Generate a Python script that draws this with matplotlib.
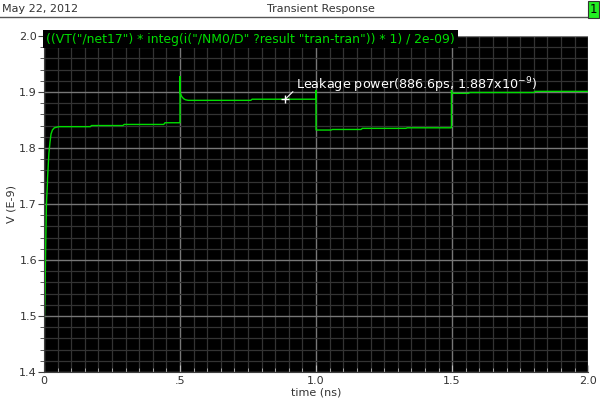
import matplotlib
matplotlib.use("Agg")
import matplotlib.pyplot as plt
from matplotlib.ticker import MultipleLocator, FixedLocator, FixedFormatter

# ---- data ----
time_ns = [0.0, 0.0015, 0.0035, 0.0035, 0.006, 0.006, 0.009, 0.009, 0.013, 0.013,
           0.018, 0.022, 0.026, 0.031, 0.038, 0.046, 0.055, 0.17, 0.175, 0.29,
           0.295, 0.44, 0.445, 0.5, 0.5, 0.501, 0.506, 0.513, 0.52, 0.53, 0.76,
           0.765, 0.9995, 0.9995, 1.0, 1.055, 1.06, 1.165, 1.17, 1.33, 1.335,
           1.4975, 1.4975, 1.5, 1.56, 1.565, 1.80, 1.805, 2.0]
value_e9 = [1.437, 1.50, 1.53, 1.53, 1.62, 1.62, 1.70, 1.70, 1.74, 1.745,
            1.79, 1.81, 1.825, 1.832, 1.836, 1.837, 1.838, 1.838, 1.840, 1.840,
            1.842, 1.842, 1.845, 1.845, 1.928, 1.898, 1.892, 1.888, 1.886, 1.885, 1.885,
            1.887, 1.887, 1.903, 1.832, 1.832, 1.833, 1.833, 1.835, 1.835, 1.836,
            1.836, 1.903, 1.8975, 1.8975, 1.899, 1.899, 1.901, 1.901]

x_ticks = [0.0, 0.5, 1.0, 1.5, 2.0]
x_tick_labels = ["0", ".5", "1.0", "1.5", "2.0"]
y_ticks = [1.4, 1.5, 1.6, 1.7, 1.8, 1.9, 2.0]
y_tick_labels = ["1.4", "1.5", "1.6", "1.7", "1.8", "1.9", "2.0"]

marker_t = 0.8866
marker_v = 1.887
marker_label = "Leakage power(886.6ps, 1.887x10$^{-9}$)"
trace_label = '((VT("/net17") * integ(i("/NM0/D" ?result "tran-tran")) * 1) / 2e-09)'

fig = plt.figure(figsize=(6.0, 4.08), dpi=100)
fig.patch.set_facecolor("white")
ax = fig.add_axes([0.0733, 0.088, 0.907, 0.824])
ax.set_facecolor("black")

ax.set_xlim(0, 2.0)
ax.set_ylim(1.4, 2.0)

# grid
ax.xaxis.set_major_locator(FixedLocator(x_ticks))
ax.xaxis.set_major_formatter(FixedFormatter(x_tick_labels))
ax.xaxis.set_minor_locator(MultipleLocator(0.05))
ax.yaxis.set_major_locator(FixedLocator(y_ticks))
ax.yaxis.set_major_formatter(FixedFormatter(y_tick_labels))
ax.yaxis.set_minor_locator(MultipleLocator(0.02))
ax.grid(which="minor", color="#333333", linewidth=0.9)
ax.grid(which="major", color="#777777", linewidth=1.0)
ax.set_axisbelow(True)

ax.tick_params(axis="y", which="major", direction="out", length=4, color="#404040",
               labelsize=8, labelcolor="#333333", pad=1)
ax.tick_params(axis="y", which="minor", direction="out", length=3, color="#404040")
ax.tick_params(axis="x", which="major", direction="in", length=5, color="#bbbbbb",
               labelsize=8, labelcolor="#333333", pad=3)
ax.tick_params(axis="x", which="minor", direction="in", length=3, color="#bbbbbb")
for s in ["top", "right"]:
    ax.spines[s].set_visible(False)
ax.spines["left"].set_color("#404040")
ax.spines["bottom"].set_color("#404040")

ax.set_xlabel("time (ns)", fontsize=8, color="#333333", labelpad=1)
ax.set_ylabel("V (E-9)", fontsize=8, color="#333333", labelpad=2)

# trace
ax.plot(time_ns, value_e9, color="#00dd00", linewidth=1.0, solid_joinstyle="miter")

# marker + annotation
ax.plot([marker_t], [marker_v], marker="+", color="white", markersize=6, mew=1.0)
ax.annotate(marker_label, xy=(marker_t, marker_v), xytext=(0.925, 1.905),
            color="white", fontsize=9.2, va="baseline", ha="left",
            arrowprops=dict(arrowstyle="-", color="white", lw=0.8,
                            shrinkA=0, shrinkB=0, relpos=(0, 0.3)))

# trace label box
ax.text(0.004, 0.99, trace_label, transform=ax.transAxes, color="#00dd00",
        fontsize=8.9, va="center", ha="left",
        bbox=dict(facecolor="black", edgecolor="none", pad=2.0), zorder=5)

# header
fig.text(0.003, 0.978, "May 22, 2012", fontsize=8, color="#333333", va="center", ha="left")
fig.text(0.535, 0.978, "Transient Response", fontsize=8, color="#333333", va="center", ha="center")
fig.add_artist(plt.Line2D([0, 0.979], [0.958, 0.958], color="#555555", lw=1.0))
fig.text(0.989, 0.977, "1", fontsize=8.5, color="black", va="center", ha="center",
         bbox=dict(facecolor="#22ee22", edgecolor="#333333", pad=1.5, lw=0.8))

fig.savefig("out.png", dpi=100, facecolor="white")
